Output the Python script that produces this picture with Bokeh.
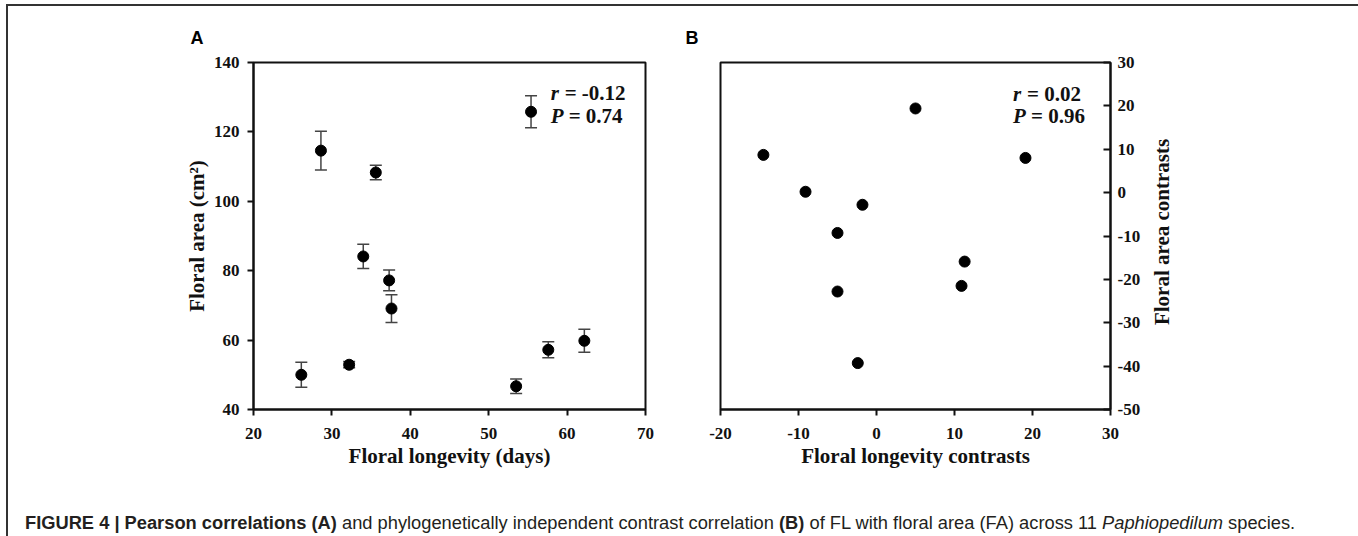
import math
from bokeh.plotting import figure
from bokeh.models import (ColumnDataSource, Whisker, TeeHead, Label, FixedTicker,
                          Range1d, Div)
from bokeh.core.properties import value
from bokeh.layouts import row, column
from bokeh.embed import file_html
from bokeh.resources import INLINE

# ---------------- data ----------------
fl_days = [26.1, 28.6, 32.2, 34.0, 35.6, 37.3, 37.6, 53.5, 55.4, 57.6, 62.2]
fa_cm2 = [50.0, 114.6, 52.9, 84.1, 108.3, 77.2, 69.1, 46.7, 125.8, 57.2, 59.8]
fa_se = [3.6, 5.6, 0.9, 3.5, 2.1, 3.0, 4.0, 2.1, 4.6, 2.3, 3.3]

fl_contrast = [-14.5, -9.1, -5.0, -5.0, -2.4, -1.8, 5.0, 10.9, 11.3, 19.1]
fa_contrast = [8.7, 0.2, -9.3, -22.8, -39.3, -2.8, 19.4, -21.5, -15.9, 8.0]

xticks_a = [20, 30, 40, 50, 60, 70]
yticks_a = [40, 60, 80, 100, 120, 140]
xticks_b = [-20, -10, 0, 10, 20, 30]
yticks_b = [-50, -40, -30, -20, -10, 0, 10, 20, 30]

r_a, p_a = "-0.12", "0.74"
r_b, p_b = "0.02", "0.96"

SERIF = "Liberation Serif"
SANS = "Liberation Sans"
INK = "#111111"


def style_axis(ax, ticks, tick_in=0, tick_out=6, standoff=8):
    ax.ticker = FixedTicker(ticks=ticks)
    ax.major_label_overrides = {t: str(t) for t in ticks}
    ax.minor_tick_line_color = None
    ax.major_tick_in = tick_in
    ax.major_tick_out = tick_out
    ax.major_tick_line_width = 2
    ax.major_tick_line_color = INK
    ax.axis_line_width = 2
    ax.axis_line_color = INK
    ax.major_label_text_font = SERIF
    ax.major_label_text_font_style = "bold"
    ax.major_label_text_font_size = "17px"
    ax.major_label_text_color = INK
    ax.major_label_standoff = standoff
    ax.axis_label_text_font = SERIF
    ax.axis_label_text_font_style = "bold"
    ax.axis_label_text_font_size = "21px"
    ax.axis_label_text_color = INK
    ax.axis_label_standoff = 2


def style_fig(p, title_offset):
    p.xgrid.visible = False
    p.ygrid.visible = False
    p.outline_line_color = INK
    p.outline_line_width = 2
    p.outline_line_alpha = 1
    p.background_fill_color = "white"
    p.border_fill_color = "white"
    p.title.text_font = SANS
    p.title.text_font_style = "bold"
    p.title.text_font_size = "18px"
    p.title.align = "left"
    p.title.offset = title_offset
    p.title.standoff = 29
    p.title.text_color = "black"


def stat_labels(p, x, y_r, y_p, r_txt, p_txt):
    common = dict(text_font=SERIF, text_font_size="21px", text_color=INK,
                  text_baseline="alphabetic")
    p.add_layout(Label(x=x, y=y_r, text="r", text_font_style="bold italic", **common))
    p.add_layout(Label(x=x, y=y_r, x_offset=14, text="= " + r_txt, text_font_style="bold", **common))
    p.add_layout(Label(x=x, y=y_p, text="P", text_font_style="bold italic", **common))
    p.add_layout(Label(x=x, y=y_p, x_offset=18, text="= " + p_txt, text_font_style="bold", **common))


# ---------------- panel A ----------------
pa = figure(width=672, height=470, x_range=Range1d(20, 70), y_range=Range1d(40, 140),
            output_backend="svg", toolbar_location=None, title="A",
            min_border_left=245, min_border_right=35, min_border_top=56, min_border_bottom=67)
style_fig(pa, -63)
style_axis(pa.xaxis[0], xticks_a, standoff=12)
style_axis(pa.yaxis[0], yticks_a, standoff=8)
pa.xaxis.axis_label = "Floral longevity (days)"
pa.yaxis.axis_label = "Floral area (cm²)"

src_a = ColumnDataSource(dict(
    x=fl_days, y=fa_cm2,
    upper=[m + e for m, e in zip(fa_cm2, fa_se)],
    lower=[m - e for m, e in zip(fa_cm2, fa_se)],
))
whisk = Whisker(source=src_a, base="x", upper="upper", lower="lower",
                line_color="#444444", line_width=1.5,
                upper_head=TeeHead(size=12, line_color="#444444", line_width=1.5),
                lower_head=TeeHead(size=12, line_color="#444444", line_width=1.5))
whisk.level = "underlay"
pa.add_layout(whisk)
pa.scatter("x", "y", source=src_a, size=11, fill_color="black", line_color="black")
stat_labels(pa, 57.9, 131.3, 124.7, r_a, p_a)

# ---------------- panel B ----------------
pb = figure(width=465, height=470, x_range=Range1d(-20, 30), y_range=Range1d(-50, 30),
            output_backend="svg", toolbar_location=None, title="B", y_axis_location="right",
            min_border_left=40, min_border_right=35, min_border_top=56, min_border_bottom=67)
style_fig(pb, -35)
style_axis(pb.xaxis[0], xticks_b, standoff=12)
style_axis(pb.yaxis[0], yticks_b, tick_in=7, tick_out=0, standoff=7)
pb.xaxis.axis_label = "Floral longevity contrasts"

src_b = ColumnDataSource(dict(x=fl_contrast, y=fa_contrast))
pb.scatter("x", "y", source=src_b, size=11, fill_color="black", line_color="black")
stat_labels(pb, 17.5, 22.7, 17.6, r_b, p_b)

# right-hand axis title of panel B (reads bottom-to-top as in the original)
pr = figure(width=208, height=470, x_range=Range1d(0, 208), y_range=Range1d(0, 470),
            output_backend="svg", toolbar_location=None, x_axis_type=None, y_axis_type=None,
            min_border_left=0, min_border_right=0, min_border_top=0, min_border_bottom=0)
pr.xgrid.visible = False
pr.ygrid.visible = False
pr.outline_line_color = None
pr.text(x=[16], y=[240.5], text=["Floral area contrasts"], angle=math.pi / 2,
        text_font=value(SERIF), text_font_style="bold", text_font_size="21px",
        text_color=INK, text_align="center", text_baseline="middle")

# ---------------- caption ----------------
caption = Div(
    text=("<b>FIGURE 4 | Pearson correlations (A)</b> and phylogenetically independent "
          "contrast correlation <b>(B)</b> of FL with floral area (FA) across 11 "
          "<i>Paphiopedilum</i> species."),
    width=1345, height=53,
    styles={"font-family": "'Liberation Sans', Arial, sans-serif", "font-size": "18.3px",
            "color": "#231f20", "padding-top": "29px", "padding-left": "12px",
            "white-space": "nowrap"},
)

layout = column(row(pa, pb, pr), caption,
                styles={"border-top": "2px solid #333333", "border-left": "2px solid #333333",
                        "border-right": "2px solid #808080",
                        "margin-left": "6px", "margin-top": "4px"})

open("out.html", "w").write(file_html(layout, INLINE))
